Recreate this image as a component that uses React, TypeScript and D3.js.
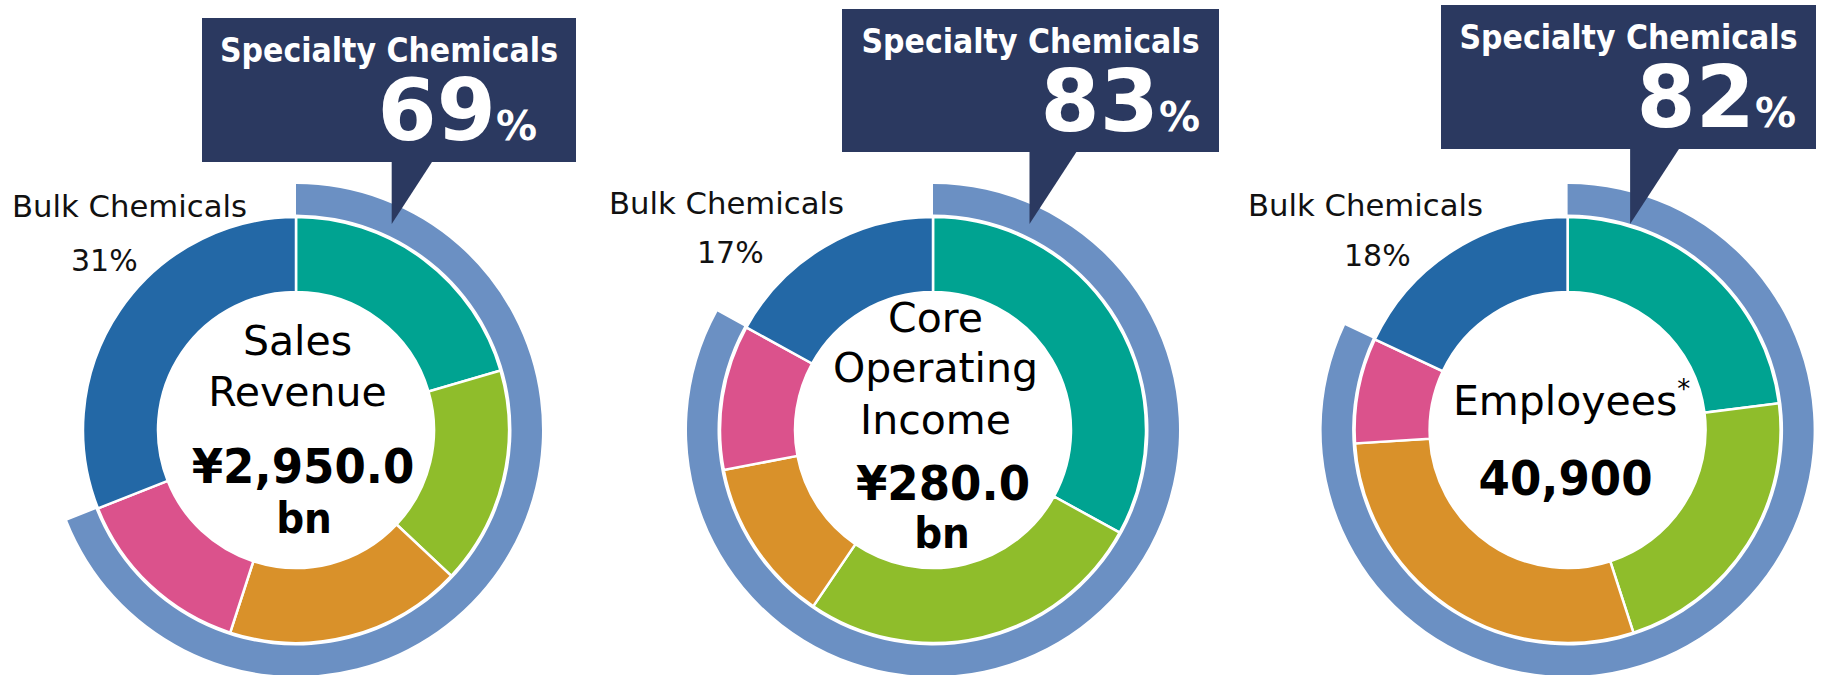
import React from "react";
import * as d3 from "d3";

// ---------- data ----------
const metricTitles: string[][] = [["Sales", "Revenue"], ["Core", "Operating", "Income"], ["Employees"]];
const metricValues: string[][] = [["¥2,950.0", "bn"], ["¥280.0", "bn"], ["40,900"]];
const metricFootnote: string[] = ["", "", "*"];
const specialtyShares: number[] = [69, 83, 82];
const bulkShares: number[] = [31, 17, 18];
const specialtyLabel = "Specialty Chemicals";
const bulkLabel = "Bulk Chemicals";
// segment order clockwise from 12 o'clock: four specialty segments, then bulk
const segmentKeys: string[] = ["Specialty seg. 1", "Specialty seg. 2", "Specialty seg. 3", "Specialty seg. 4", "Bulk"];
const salesRevenueShares: number[] = [20.5, 16.5, 18, 14, 31];
const coreOperatingShares: number[] = [33, 26.5, 12.5, 11, 17];
const employeeShares: number[] = [23, 22, 29, 8, 18];
const chartShares: number[][] = [salesRevenueShares, coreOperatingShares, employeeShares];

// ---------- styles / layout ----------
const segColors = ["#00A391", "#8FBD2B", "#D9912A", "#DB528C", "#2368A6"];
const ringColor = "#6B90C3";
const navy = "#2B3960";
const FONT = "'DejaVu Sans', Verdana, sans-serif";

const CY = 430;
const centersX = [296, 933, 1567.6];
const R_IN = 138, R_OUT = 213, RING_IN = 215.5, RING_OUT = 246;
const boxes = [
  { x: 202, y: 18, w: 374, h: 144 },
  { x: 842, y: 9, w: 377, h: 143 },
  { x: 1441, y: 5, w: 375, h: 144 },
];
const pointerDx = [95.7, 96.5, 62.5];
const pointerTipY = 224;
const pctRight = [537, 1200, 1796];
const bulkLabelPos = [
  { x: 12, y: 217, px: 71, py: 270.5 },
  { x: 609, y: 213.5, px: 697, py: 263 },
  { x: 1248, y: 216, px: 1344, py: 266 },
];
const titleBaselines = [[355, 406], [332, 382, 434], [415]];
const titleDx = [1.5, 2.5, 4];
const valueBaselines = [[483, 533], [500, 548], [495]];
const valueDx = [[7, 8], [10, 9], [-2]];

export default function App() {
  const angle = d3.scaleLinear().domain([0, 100]).range([0, 2 * Math.PI]);
  const pie = d3
    .pie<number>()
    .sort(null)
    .value((d) => d)
    .startAngle(0)
    .endAngle(2 * Math.PI);
  const arc = d3.arc<d3.PieArcDatum<number>>().innerRadius(R_IN).outerRadius(R_OUT);
  const ringArc = d3.arc<any>().innerRadius(RING_IN).outerRadius(RING_OUT);
  const color = d3.scaleOrdinal<string, string>().domain(segmentKeys).range(segColors);

  return (
    <svg
      width={1833}
      height={675}
      viewBox="0 0 1833 675"
      style={{ position: "absolute", left: 0, top: 0, background: "#fff", overflow: "hidden" }}
      fontFamily={FONT}
    >
      {chartShares.map((shares, i) => {
        const cx = centersX[i];
        const b = boxes[i];
        const tipX = cx + pointerDx[i];
        const boxBottom = b.y + b.h;
        const baseW = 0.66 * (pointerTipY - boxBottom);
        const arcs = pie(shares);
        return (
          <g key={i}>
            <g transform={`translate(${cx},${CY})`}>
              <path
                d={ringArc({ startAngle: 0, endAngle: angle(specialtyShares[i]) }) as string}
                fill={ringColor}
              />
              {arcs.map((a, j) => (
                <path
                  key={j}
                  d={arc(a) as string}
                  fill={color(segmentKeys[j])}
                  stroke="#fff"
                  strokeWidth={2.5}
                  strokeLinejoin="miter"
                />
              ))}
              {metricTitles[i].map((t, k) => (
                <text
                  key={"t" + k}
                  x={titleDx[i]}
                  y={titleBaselines[i][k] - CY}
                  textAnchor="middle"
                  fontSize={41}
                  fill="#000"
                >
                  {t}
                  {k === metricTitles[i].length - 1 && metricFootnote[i] ? (
                    <tspan fontSize={26} dy={-17}>
                      {metricFootnote[i]}
                    </tspan>
                  ) : null}
                </text>
              ))}
              {metricValues[i].map((v, k) => (
                <text
                  key={"v" + k}
                  transform={`translate(${valueDx[i][k]},${valueBaselines[i][k] - CY}) scale(0.93,1)`}
                  textAnchor="middle"
                  fontSize={k === 0 ? 48.5 : 42}
                  fontWeight="bold"
                  fill="#000"
                >
                  {v}
                </text>
              ))}
            </g>
            {/* callout box */}
            <rect x={b.x} y={b.y} width={b.w} height={b.h} fill={navy} />
            <path
              d={`M${tipX},${boxBottom - 1} L${tipX + baseW},${boxBottom - 1} L${tipX},${pointerTipY} Z`}
              fill={navy}
            />
            <text
              x={b.x + b.w / 2}
              y={b.y + 43.5}
              textAnchor="middle"
              fontSize={33}
              fontWeight="bold"
              fill="#fff"
              textLength={338}
              lengthAdjust="spacingAndGlyphs"
            >
              {specialtyLabel}
            </text>
            <text x={pctRight[i]} y={b.y + 122} textAnchor="end" fontWeight="bold" fill="#fff">
              <tspan fontSize={85}>{specialtyShares[i]}</tspan>
              <tspan fontSize={41}>%</tspan>
            </text>
            {/* bulk label */}
            <text
              x={bulkLabelPos[i].x}
              y={bulkLabelPos[i].y}
              fontSize={30}
              fill="#111"
              textLength={235}
              lengthAdjust="spacingAndGlyphs"
            >
              {bulkLabel}
            </text>
            <text x={bulkLabelPos[i].px} y={bulkLabelPos[i].py} fontSize={30} fill="#111">
              {bulkShares[i]}%
            </text>
          </g>
        );
      })}
    </svg>
  );
}
